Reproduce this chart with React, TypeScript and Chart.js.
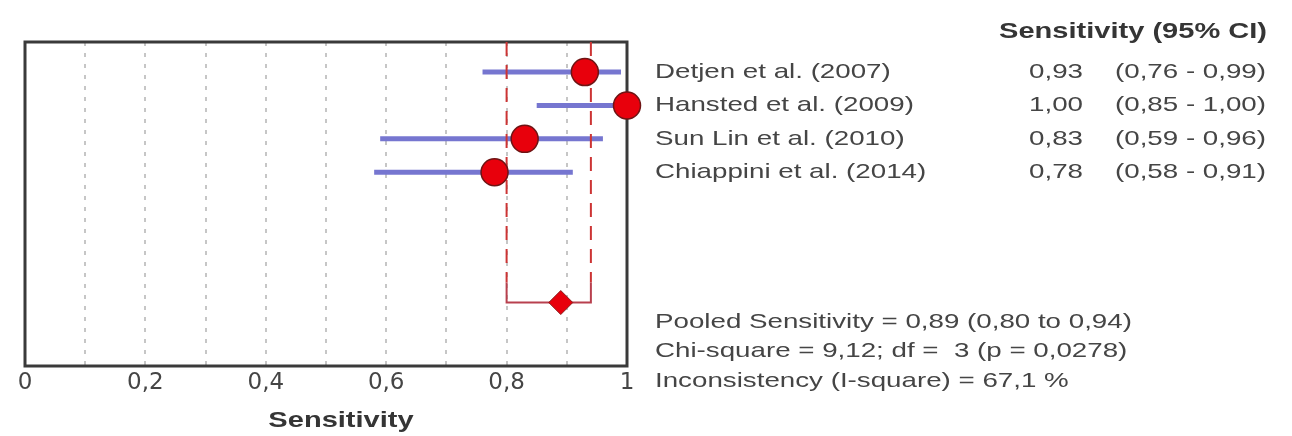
import React, { useEffect, useRef } from 'react';
import { Chart, registerables } from 'chart.js';

Chart.register(...registerables);

// ---- data ----
const studies = ['Detjen et al. (2007)', 'Hansted et al. (2009)', 'Sun Lin et al. (2010)', 'Chiappini et al. (2014)'];
const sensitivity = [0.93, 1.0, 0.83, 0.78];
const ciLower = [0.76, 0.85, 0.59, 0.58];
const ciUpper = [0.99, 1.0, 0.96, 0.91];
const studyRows = [1, 2, 3, 4];
const pooledRow = 7.9;
const pooledValue = 0.89;
const pooledLower = 0.8;
const pooledUpper = 0.94;
const xTickValues = [0, 0.2, 0.4, 0.6, 0.8, 1];
const headerText = 'Sensitivity (95% CI)';
const axisTitle = 'Sensitivity';
const summaryLines = [
  'Pooled Sensitivity = 0,89 (0,80 to 0,94)',
  'Chi-square = 9,12; df =  3 (p = 0,0278)',
  'Inconsistency (I-square) = 67,1 %',
];

const fmt2 = (v: number) => v.toFixed(2).replace('.', ',');
const fmtTick = (v: number) => (v === 0 ? '0' : v === 1 ? '1' : v.toFixed(1).replace('.', ','));

const TEXT_FONT = '21px "Liberation Sans", Arial, sans-serif';
const BOLD_FONT = 'bold 22px "Liberation Sans", Arial, sans-serif';
const SX = 1.32;
const W = 1292;
const H = 436;

function drawText(ctx: CanvasRenderingContext2D, text: string, x: number, y: number, align: CanvasTextAlign, font: string, color: string) {
  ctx.save();
  ctx.font = font;
  ctx.fillStyle = color;
  ctx.textBaseline = 'middle';
  ctx.textAlign = align;
  ctx.translate(x, y);
  ctx.scale(SX, 1);
  ctx.fillText(text, 0, 0);
  ctx.restore();
}

const boxPlugin = {
  id: 'plotBox',
  beforeDatasetsDraw(chart: any) {
    const { ctx, chartArea } = chart;
    ctx.save();
    ctx.strokeStyle = '#3a3a3a';
    ctx.lineWidth = 3;
    ctx.strokeRect(chartArea.left, chartArea.top, chartArea.right - chartArea.left, chartArea.bottom - chartArea.top);
    ctx.restore();
  },
};

const textPlugin = {
  id: 'forestText',
  afterDraw(chart: any) {
    const { ctx } = chart;
    const y = chart.scales.y;
    const color = '#454545';
    drawText(ctx, headerText, 1267, 32, 'right', BOLD_FONT, '#353535');
    studies.forEach((name, i) => {
      const py = y.getPixelForValue(studyRows[i]);
      drawText(ctx, name, 655, py, 'left', TEXT_FONT, color);
      drawText(ctx, fmt2(sensitivity[i]), 1083, py, 'right', TEXT_FONT, color);
      drawText(ctx, `(${fmt2(ciLower[i])} - ${fmt2(ciUpper[i])})`, 1115, py, 'left', TEXT_FONT, color);
    });
    const sy = [322, 351, 381];
    summaryLines.forEach((line, i) => drawText(ctx, line, 655, sy[i], 'left', TEXT_FONT, color));
    drawText(ctx, axisTitle, 341, 421, 'center', BOLD_FONT, '#353535');
  },
};

export default function App() {
  const ref = useRef<HTMLCanvasElement | null>(null);
  useEffect(() => {
    if (!ref.current) return;
    const ciDatasets = studies.map((s, i) => ({
      label: s + ' CI',
      data: [
        { x: ciLower[i], y: studyRows[i] },
        { x: ciUpper[i], y: studyRows[i] },
      ],
      showLine: true,
      borderColor: '#7676d0',
      borderWidth: 5,
      pointRadius: 0,
      order: 3,
      clip: false as any,
    }));
    const dashed = [pooledLower, pooledUpper].map((v) => ({
      label: 'pooled CI ' + v,
      data: [
        { x: v, y: 0.1 },
        { x: v, y: pooledRow - 0.6 },
      ],
      showLine: true,
      borderColor: '#cc3434',
      borderWidth: 2,
      borderDash: [14, 9],
      pointRadius: 0,
      order: 2,
    }));
    const chart = new Chart(ref.current, {
      type: 'scatter',
      data: {
        datasets: [
          {
            label: 'Sensitivity',
            data: sensitivity.map((v, i) => ({ x: v, y: studyRows[i] })),
            pointRadius: 13.5,
            pointBackgroundColor: '#e8000c',
            pointBorderColor: '#6e1414',
            pointBorderWidth: 1.5,
            order: 0,
            clip: false as any,
          },
          {
            label: 'Pooled',
            data: [{ x: pooledValue, y: pooledRow }],
            pointStyle: 'rectRot',
            pointRadius: 12,
            pointBackgroundColor: '#e8000c',
            pointBorderColor: '#8a1a1a',
            pointBorderWidth: 1,
            order: 0,
          },
          {
            label: 'Pooled bracket',
            data: [
              { x: pooledLower, y: pooledRow - 0.6 },
              { x: pooledLower, y: pooledRow },
              { x: pooledUpper, y: pooledRow },
              { x: pooledUpper, y: pooledRow - 0.6 },
            ],
            showLine: true,
            borderColor: '#b8404e',
            borderWidth: 2,
            pointRadius: 0,
            order: 1,
          },
          ...dashed,
          ...ciDatasets,
        ] as any,
      },
      options: {
        animation: false,
        responsive: false,
        maintainAspectRatio: false,
        devicePixelRatio: 1,
        layout: { padding: { left: 25, top: 42, right: 665, bottom: 35 } },
        plugins: { legend: { display: false }, tooltip: { enabled: false }, title: { display: false } },
        scales: {
          x: {
            type: 'linear',
            min: 0,
            max: 1,
            ticks: {
              stepSize: 0.1,
              autoSkip: false,
              maxRotation: 0,
              padding: 6,
              color: '#454545',
              font: { family: 'DejaVu Sans', size: 23, lineHeight: 1 },
              callback: (v: any) => {
                const n = Number(v);
                const m = xTickValues.find((t) => Math.abs(t - n) < 1e-6);
                return m === undefined ? '' : fmtTick(m);
              },
            },
            grid: {
              drawTicks: false,
              lineWidth: 2,
              color: (c: any) => {
                const v = c.tick ? c.tick.value : 0;
                return v < 1e-6 || v > 1 - 1e-6 ? 'rgba(0,0,0,0)' : '#c6c6c6';
              },
            },
            border: { display: false, dash: [4, 7] },
          },
          y: { type: 'linear', min: 0.1, max: 9.8, reverse: true, display: false },
        },
      } as any,
      plugins: [boxPlugin, textPlugin],
    });
    return () => chart.destroy();
  }, []);
  return (
    <div style={{ position: 'fixed', left: 0, top: 0, width: W, height: H }}>
      <canvas ref={ref} width={W} height={H} style={{ display: 'block', width: W, height: H }} />
    </div>
  );
}
